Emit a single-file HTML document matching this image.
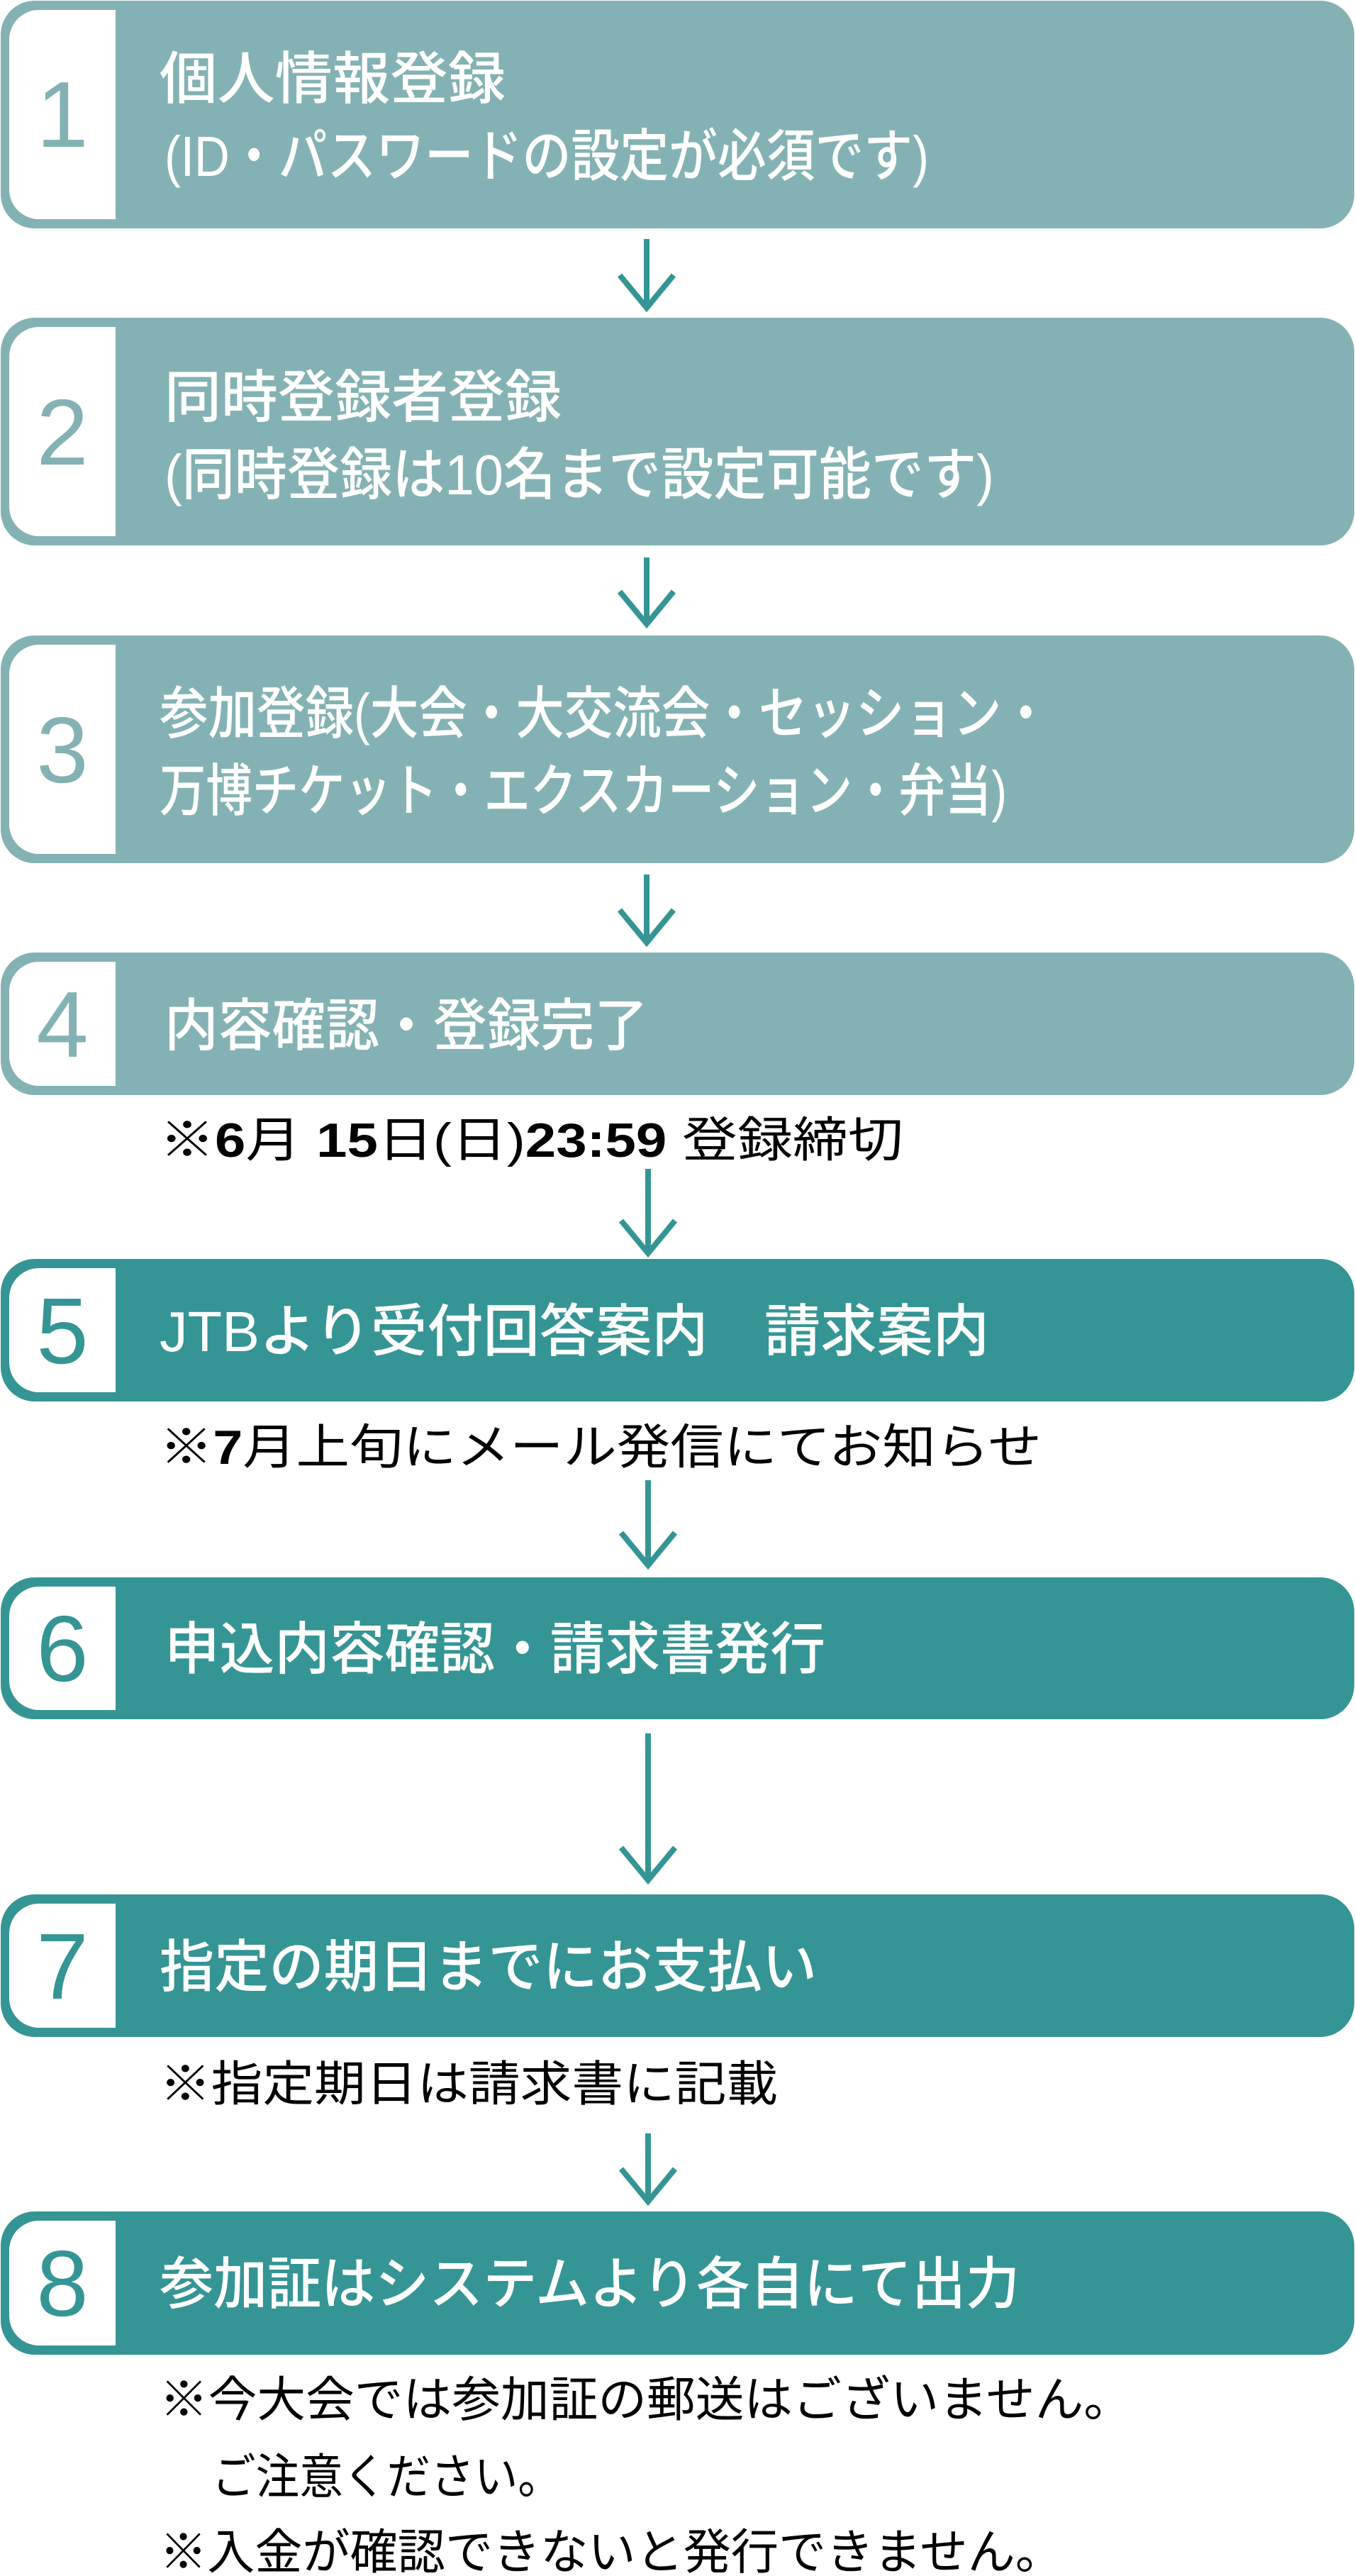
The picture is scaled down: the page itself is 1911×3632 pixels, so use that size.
<!DOCTYPE html>
<html><head><meta charset="utf-8"><style>
html,body{margin:0;padding:0;background:#fff;}
svg{display:block;}
text{font-family:"Liberation Sans","Noto Sans CJK JP",sans-serif;}
.bt{font-weight:500;}
</style></head><body>
<svg width="1911" height="3632" viewBox="0 0 1911 3632" xmlns="http://www.w3.org/2000/svg">
<!-- Boxes -->
<g>
<rect x="1" y="1" width="1909" height="321" rx="48" fill="#84b2b4"/>
<path d="M55 14 H163 V309 H55 A42 42 0 0 1 13 267 V56 A42 42 0 0 1 55 14 Z" fill="#fff"/>
<text x="88" y="207" font-size="132" fill="#84b2b4" text-anchor="middle" font-weight="500">1</text>
<text class="bt" x="225" y="139" font-size="80" fill="#fff" textLength="488" lengthAdjust="spacingAndGlyphs">個人情報登録</text>
<text class="bt" x="232" y="248" font-size="80" fill="#fff" textLength="1078" lengthAdjust="spacingAndGlyphs">(ID・パスワードの設定が必須です)</text>

<rect x="1" y="448" width="1909" height="321" rx="48" fill="#84b2b4"/>
<path d="M55 461 H163 V756 H55 A42 42 0 0 1 13 714 V503 A42 42 0 0 1 55 461 Z" fill="#fff"/>
<text x="88" y="655" font-size="132" fill="#84b2b4" text-anchor="middle" font-weight="500">2</text>
<text class="bt" x="232" y="588" font-size="80" fill="#fff" textLength="560" lengthAdjust="spacingAndGlyphs">同時登録者登録</text>
<text class="bt" x="232" y="697" font-size="80" fill="#fff" textLength="1170" lengthAdjust="spacingAndGlyphs">(同時登録は10名まで設定可能です)</text>

<rect x="1" y="896" width="1909" height="321" rx="48" fill="#84b2b4"/>
<path d="M55 909 H163 V1204 H55 A42 42 0 0 1 13 1162 V951 A42 42 0 0 1 55 909 Z" fill="#fff"/>
<text x="88" y="1103" font-size="132" fill="#84b2b4" text-anchor="middle" font-weight="500">3</text>
<text class="bt" x="225" y="1034" font-size="80" fill="#fff" textLength="1256" lengthAdjust="spacingAndGlyphs">参加登録(大会・大交流会・セッション・</text>
<text class="bt" x="225" y="1143" font-size="80" fill="#fff" textLength="1195" lengthAdjust="spacingAndGlyphs">万博チケット・エクスカーション・弁当)</text>

<rect x="1" y="1343" width="1909" height="201" rx="48" fill="#84b2b4"/>
<path d="M55 1356 H163 V1531 H55 A42 42 0 0 1 13 1489 V1398 A42 42 0 0 1 55 1356 Z" fill="#fff"/>
<text x="88" y="1490" font-size="132" fill="#84b2b4" text-anchor="middle" font-weight="500">4</text>
<text class="bt" x="232" y="1474" font-size="80" fill="#fff" textLength="682" lengthAdjust="spacingAndGlyphs">内容確認・登録完了</text>

<rect x="1" y="1775" width="1909" height="201" rx="48" fill="#359595"/>
<path d="M55 1788 H163 V1963 H55 A42 42 0 0 1 13 1921 V1830 A42 42 0 0 1 55 1788 Z" fill="#fff"/>
<text x="88" y="1922" font-size="132" fill="#359595" text-anchor="middle" font-weight="500">5</text>
<text class="bt" x="225" y="1905" font-size="80" fill="#fff" textLength="1170" lengthAdjust="spacingAndGlyphs">JTBより受付回答案内　請求案内</text>

<rect x="1" y="2224" width="1909" height="200" rx="48" fill="#359595"/>
<path d="M55 2237 H163 V2411 H55 A42 42 0 0 1 13 2369 V2279 A42 42 0 0 1 55 2237 Z" fill="#fff"/>
<text x="88" y="2370" font-size="132" fill="#359595" text-anchor="middle" font-weight="500">6</text>
<text class="bt" x="232" y="2353" font-size="80" fill="#fff" textLength="932" lengthAdjust="spacingAndGlyphs">申込内容確認・請求書発行</text>

<rect x="1" y="2671" width="1909" height="201" rx="48" fill="#359595"/>
<path d="M55 2684 H163 V2859 H55 A42 42 0 0 1 13 2817 V2726 A42 42 0 0 1 55 2684 Z" fill="#fff"/>
<text x="88" y="2818" font-size="132" fill="#359595" text-anchor="middle" font-weight="500">7</text>
<text class="bt" x="225" y="2801" font-size="80" fill="#fff" textLength="927" lengthAdjust="spacingAndGlyphs">指定の期日までにお支払い</text>

<rect x="1" y="3118" width="1909" height="202" rx="48" fill="#359595"/>
<path d="M55 3131 H163 V3307 H55 A42 42 0 0 1 13 3265 V3173 A42 42 0 0 1 55 3131 Z" fill="#fff"/>
<text x="88" y="3265" font-size="132" fill="#359595" text-anchor="middle" font-weight="500">8</text>
<text class="bt" x="225" y="3248" font-size="80" fill="#fff" textLength="1213" lengthAdjust="spacingAndGlyphs">参加証はシステムより各自にて出力</text>
</g>

<!-- Arrows -->
<g stroke="#359595" stroke-width="8" fill="none">
<line x1="912" y1="337" x2="912" y2="430"/><polyline points="874,388 912,434 950,388"/>
<line x1="912" y1="786" x2="912" y2="878"/><polyline points="874,834 912,880 950,834"/>
<line x1="912" y1="1233" x2="912" y2="1327"/><polyline points="874,1283 912,1329 950,1283"/>
<line x1="914" y1="1648" x2="914" y2="1765"/><polyline points="876,1721 914,1767 952,1721"/>
<line x1="914" y1="2087" x2="914" y2="2205"/><polyline points="876,2161 914,2207 952,2161"/>
<line x1="914" y1="2444" x2="914" y2="2649"/><polyline points="876,2605 914,2651 952,2605"/>
<line x1="914" y1="3008" x2="914" y2="3102"/><polyline points="876,3058 914,3104 952,3058"/>
</g>

<!-- Notes -->
<g fill="#000" font-size="68">
<text x="225" y="1631" textLength="1049" lengthAdjust="spacingAndGlyphs">※<tspan font-weight="bold">6</tspan>月 <tspan font-weight="bold">15</tspan>日(日)<tspan font-weight="bold">23:59</tspan> 登録締切</text>
<text x="225" y="2064" textLength="1244" lengthAdjust="spacingAndGlyphs">※<tspan font-weight="bold">7</tspan>月上旬にメール発信にてお知らせ</text>
<text x="225" y="2962" textLength="872" lengthAdjust="spacingAndGlyphs">※指定期日は請求書に記載</text>
<text x="225" y="3407" textLength="1372" lengthAdjust="spacingAndGlyphs">※今大会では参加証の郵送はございません。</text>
<text x="299" y="3516" textLength="493" lengthAdjust="spacingAndGlyphs">ご注意ください。</text>
<text x="225" y="3622" textLength="1274" lengthAdjust="spacingAndGlyphs">※入金が確認できないと発行できません。</text>
</g>
</svg>
</body></html>
